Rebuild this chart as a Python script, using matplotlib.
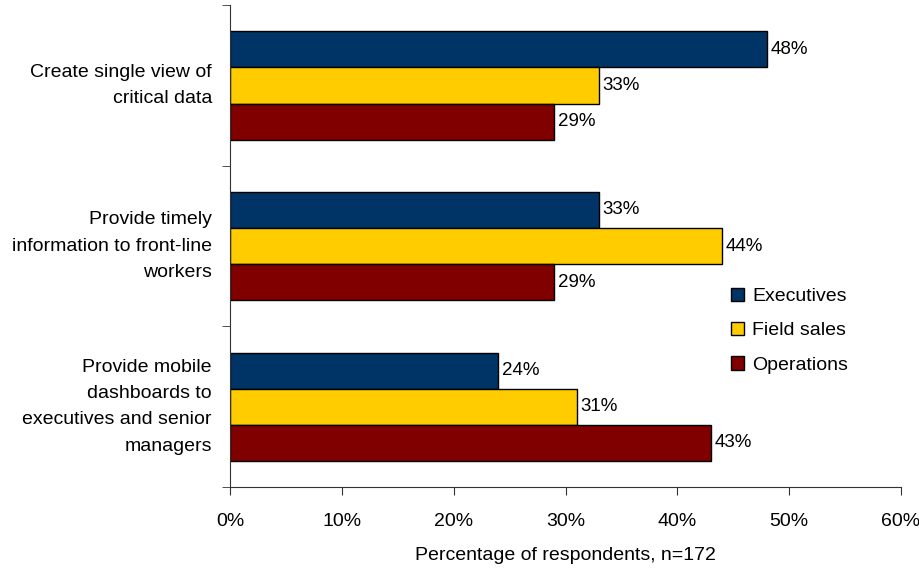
import numpy as np
import matplotlib.pyplot as plt
import matplotlib.transforms as mtransforms
from matplotlib.patches import Patch

categories = ["Create single view of\ncritical data",
              "Provide timely\ninformation to front-line\nworkers",
              "Provide mobile\ndashboards to\nexecutives and senior\nmanagers"]
series = ["Executives", "Field sales", "Operations"]
executives = [48, 33, 24]
field_sales = [33, 44, 31]
operations = [29, 29, 43]
colors = ["#003366", "#FFCC00", "#800000"]

plt.rcParams['font.family'] = ['Liberation Sans', 'DejaVu Sans']
FS = 14

fig = plt.figure(figsize=(9.19, 5.69), dpi=100)
ax = fig.add_axes([0.2503, 0.144, 0.7301, 0.847])

centers = np.arange(len(categories)) + 0.5
h = 0.225
for i, (vals, col) in enumerate(zip([executives, field_sales, operations], colors)):
    ys = centers + (i - 1) * h
    ax.barh(ys, vals, height=h, color=col, edgecolor="black", linewidth=1)
    for y, v in zip(ys, vals):
        ax.text(v + 0.3, y, f"{v}%", va="center", ha="left", fontsize=13.5)

ax.set_xlim(0, 60)
ax.set_ylim(3, 0)
ax.set_xticks(np.arange(0, 61, 10))
ax.set_xticklabels([f"{x}%" for x in range(0, 61, 10)], fontsize=FS)

# category labels drawn as text beside the axis
ax.set_yticks([])
lab_tr = ax.get_yaxis_transform() + mtransforms.ScaledTranslation(-13 / 72, 0, fig.dpi_scale_trans)
for c, lab in zip(centers, categories):
    ax.text(0, c, lab, transform=lab_tr, ha="right", va="center",
            fontsize=FS, linespacing=1.72, multialignment="right")

ax.set_yticks([0, 1, 2, 3], minor=True)
ax.tick_params(axis="y", which="minor", length=6, direction="out", color="#333333")
ax.tick_params(axis="x", length=6, direction="out", pad=13, color="#333333")
for s in ["top", "right"]:
    ax.spines[s].set_visible(False)
for s in ["left", "bottom"]:
    ax.spines[s].set_color("#333333")
ax.set_xlabel("Percentage of respondents, n=172", fontsize=FS, labelpad=12)

handles = [Patch(facecolor=c, edgecolor="black", linewidth=1) for c in colors]
ax.legend(handles, series, loc="upper left", bbox_to_anchor=(0.72, 0.45),
          frameon=False, fontsize=FS, handlelength=0.7, handleheight=0.7,
          handletextpad=0.4, labelspacing=0.85)

fig.savefig("out.png", dpi=100)
